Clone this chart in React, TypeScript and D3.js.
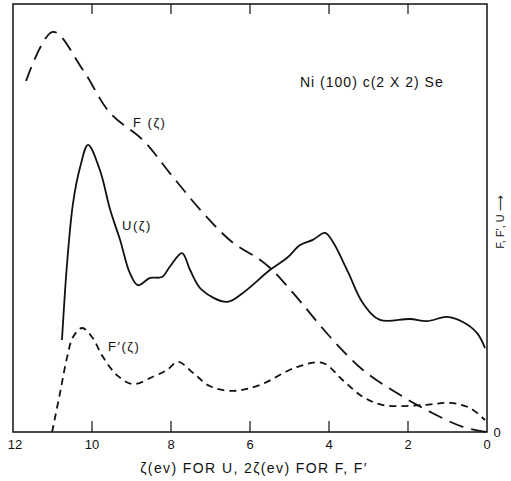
import { useEffect, useRef } from "react";
import * as d3 from "d3";

// F(zeta), long dashes (x is 2*zeta)
const fX = [11.67, 10.99, 10.23, 9.54, 8.71, 8.03, 7.19, 6.43, 5.82, 5.44, 4.91, 3.97, 3.14, 2.28, 1.44, 0.61, 0];
const fY = [82.0, 93.5, 84.6, 74.5, 68.2, 60.5, 51.2, 44.2, 40.7, 37.9, 32.5, 22.2, 14.5, 9.1, 4.7, 1.2, 0];

// U(zeta), solid
const uX = [10.76, 10.63, 10.48, 10.3, 10.1, 9.8, 9.54, 9.29, 9.04, 8.84, 8.53, 8.23, 8.03, 7.72, 7.52, 7.22, 6.58, 6.18, 5.49, 5.06, 4.73, 4.41, 4.1, 3.9, 3.52, 3.14, 2.71, 1.95, 1.52, 1.01, 0.61, 0.25, 0.05];
const uY = [21.5, 39.5, 53.5, 61.9, 67.1, 61.2, 51.9, 44.9, 37.1, 34.3, 36.0, 36.2, 38.6, 41.8, 37.9, 33.2, 30.4, 32.5, 37.9, 40.7, 43.7, 44.9, 46.5, 44.4, 37.4, 30.1, 26.2, 26.4, 25.9, 26.9, 25.7, 23.1, 19.6];

// F'(zeta), short dashes
const fpX = [11.01, 10.81, 10.63, 10.48, 10.25, 10.0, 9.72, 9.37, 8.96, 8.46, 8.1, 7.82, 7.44, 7.01, 6.43, 5.75, 4.81, 4.15, 3.65, 3.14, 2.63, 1.62, 0.94, 0.43, 0.05];
const fpY = [0, 9.1, 17.5, 22.2, 24.3, 22.2, 17.5, 13.3, 11.2, 12.9, 14.5, 16.4, 13.8, 10.7, 9.6, 11.0, 15.2, 16.1, 12.1, 8.2, 6.3, 6.3, 6.8, 5.6, 2.8];

const xTicks = [12, 10, 8, 6, 4, 2, 0];
const xTickLabels = ["12", "10", "8", "6", "4", "2", "0"];

export default function App() {
  const ref = useRef<SVGSVGElement>(null);

  useEffect(() => {
    const svg = d3.select(ref.current);
    svg.selectAll("*").remove();

    const left = 13, right = 487, top = 4, bottom = 432;
    const x = d3.scaleLinear().domain([12, 0]).range([left, right]);
    const y = d3.scaleLinear().domain([0, 100]).range([bottom, top]);
    const font = "'Liberation Sans', Arial, sans-serif";
    const ink = "#111";

    svg.append("rect").attr("width", 511).attr("height", 481).attr("fill", "#fff");

    // frame
    svg.append("rect")
      .attr("x", left).attr("y", top)
      .attr("width", right - left).attr("height", bottom - top)
      .attr("fill", "none").attr("stroke", ink).attr("stroke-width", 1.5);

    // ticks, inside on bottom and top
    const inner = xTicks.filter((t) => t !== 12 && t !== 0);
    svg.append("g").selectAll("line.b").data(inner).join("line")
      .attr("x1", (d) => x(d)).attr("x2", (d) => x(d))
      .attr("y1", bottom).attr("y2", bottom - 11)
      .attr("stroke", ink).attr("stroke-width", 1.2);
    svg.append("g").selectAll("line.t").data(inner).join("line")
      .attr("x1", (d) => x(d)).attr("x2", (d) => x(d))
      .attr("y1", top).attr("y2", top + 10)
      .attr("stroke", ink).attr("stroke-width", 1.2);

    svg.append("g").selectAll("text").data(xTicks).join("text")
      .attr("x", (d) => (d === 12 ? x(d) + 2 : x(d)))
      .attr("y", 449)
      .attr("text-anchor", "middle")
      .style("font-family", font).style("font-size", "13px").attr("fill", ink)
      .text((_, i) => xTickLabels[i]);

    // y zero label
    svg.append("text").attr("x", 497).attr("y", 437)
      .attr("text-anchor", "middle")
      .style("font-family", font).style("font-size", "13px").attr("fill", ink)
      .text("0");

    const line = (xs: number[], ys: number[]) =>
      d3.line<number>()
        .x((_, i) => x(xs[i]))
        .y((d) => y(d))
        .curve(d3.curveCatmullRom.alpha(0.5))(ys);

    svg.append("path").attr("d", line(fX, fY))
      .attr("fill", "none").attr("stroke", ink).attr("stroke-width", 1.8)
      .attr("stroke-dasharray", "15 8");
    svg.append("path").attr("d", line(uX, uY))
      .attr("fill", "none").attr("stroke", ink).attr("stroke-width", 1.8);
    svg.append("path").attr("d", line(fpX, fpY))
      .attr("fill", "none").attr("stroke", ink).attr("stroke-width", 1.8)
      .attr("stroke-dasharray", "7 5");

    const label = (tx: number, ty: number, s: string, size: number, sp: number) =>
      svg.append("text").attr("x", tx).attr("y", ty)
        .style("font-family", font).style("font-size", `${size}px`)
        .style("letter-spacing", `${sp}px`)
        .attr("fill", ink).text(s);

    label(300, 87, "Ni (100) c(2 X 2) Se", 14, 1);
    label(133, 127, "F (ζ)", 13, 1.5);
    label(122, 230, "U(ζ)", 13, 1.5);
    label(108, 351, "F′(ζ)", 13, 1.5);

    svg.append("text").attr("x", 254).attr("y", 473)
      .attr("text-anchor", "middle")
      .style("font-family", font).style("font-size", "14px")
      .style("letter-spacing", "1.4px").attr("fill", ink)
      .text("ζ(ev)  FOR U,  2ζ(ev) FOR F, F′");

    svg.append("text")
      .attr("transform", "translate(504,222) rotate(-90)")
      .attr("text-anchor", "middle")
      .style("font-family", font).style("font-size", "11px").attr("fill", ink)
      .text("F, F′, U ⟶");
  }, []);

  return (
    <svg ref={ref} width={511} height={481}
      style={{ position: "absolute", left: 0, top: 0 }} />
  );
}
